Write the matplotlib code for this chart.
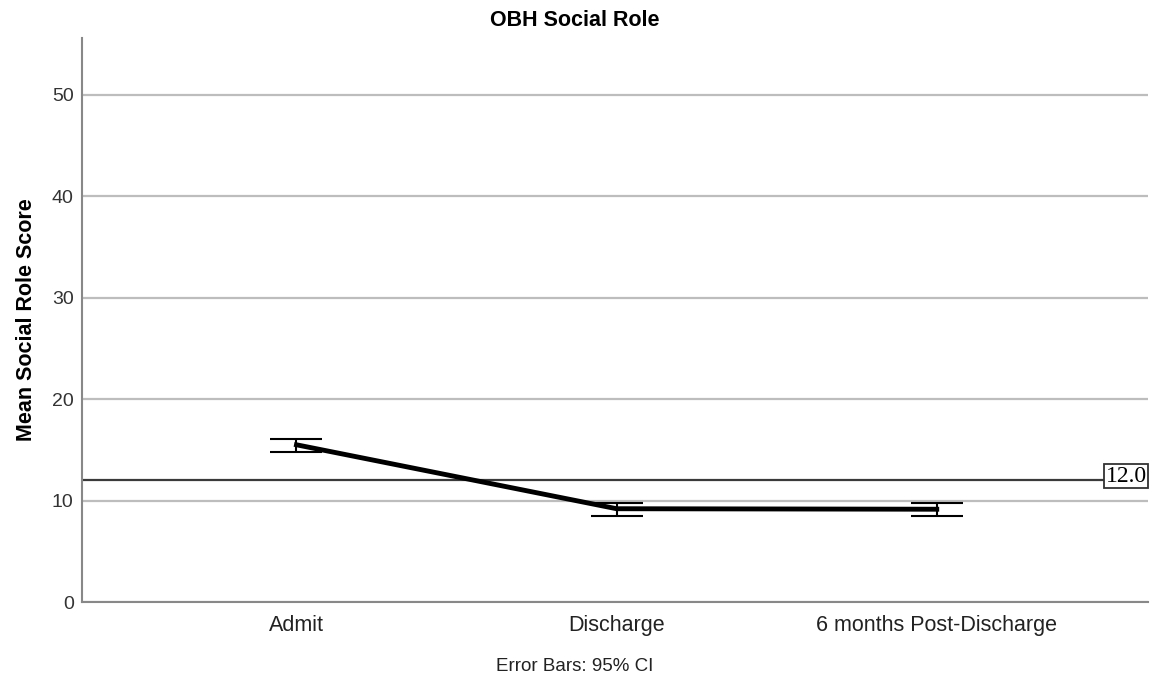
import numpy as np
import matplotlib
matplotlib.use('Agg')
import matplotlib.pyplot as plt

plt.rcParams['font.family'] = ['Liberation Sans', 'DejaVu Sans']

# 数据
categories = ['Admit', 'Discharge', '6 months Post-Discharge']
means = [15.5, 9.2, 9.15]
ci_low = [14.8, 8.5, 8.5]
ci_high = [16.1, 9.8, 9.8]
ref_value = 12.0

x = np.arange(len(categories))
err = [np.array(means) - np.array(ci_low), np.array(ci_high) - np.array(means)]

fig = plt.figure(figsize=(11.5, 6.75), dpi=100)
ax = fig.add_axes([0.0713, 0.108, 0.927, 0.836])

# 网格线
ax.set_ylim(0, 55.6)
ax.set_xlim(-0.67, 2.66)
ax.set_yticks([0, 10, 20, 30, 40, 50])
ax.yaxis.grid(True, color='#bdbdbd', linewidth=1.6)
ax.set_axisbelow(True)

# 参考线
ax.axhline(ref_value, xmin=0, xmax=0.958, color='#3a3a3a', linewidth=1.6, zorder=2)
ax.annotate('%.1f' % ref_value, xy=(0.999, ref_value), xycoords=ax.get_yaxis_transform(),
            xytext=(0, 3), textcoords='offset points',
            ha='right', va='center', fontsize=17, family='Liberation Serif', color='black',
            bbox=dict(boxstyle='square,pad=0.06', fc='white', ec='#333333', lw=1.3), zorder=5)

ax.plot(x, means, color='black', linewidth=3.5, zorder=4)
ax.errorbar(x, means, yerr=err, fmt='none', ecolor='black', elinewidth=1.5,
            capsize=18.5, capthick=1.5, zorder=3)

ax.set_xticks(x)
ax.set_xticklabels(categories, fontsize=15.5, color='#222222')
ax.tick_params(axis='y', labelsize=14, labelcolor='#333333', length=0, pad=6)
ax.tick_params(axis='x', length=0, pad=9)

for s in ['top', 'right']:
    ax.spines[s].set_visible(False)
for s in ['left', 'bottom']:
    ax.spines[s].set_color('#888888')
    ax.spines[s].set_linewidth(1.5)

ax.set_ylabel('Mean Social Role Score', fontsize=15.5, fontweight='bold', labelpad=11)
fig.text(0.5, 0.969, 'OBH Social Role', ha='center', va='center', fontsize=15.5, fontweight='bold')
fig.text(0.5, 0.006, 'Error Bars: 95% CI', ha='center', va='baseline', fontsize=13.5, color='#222222')

fig.savefig('out.png', dpi=100)
